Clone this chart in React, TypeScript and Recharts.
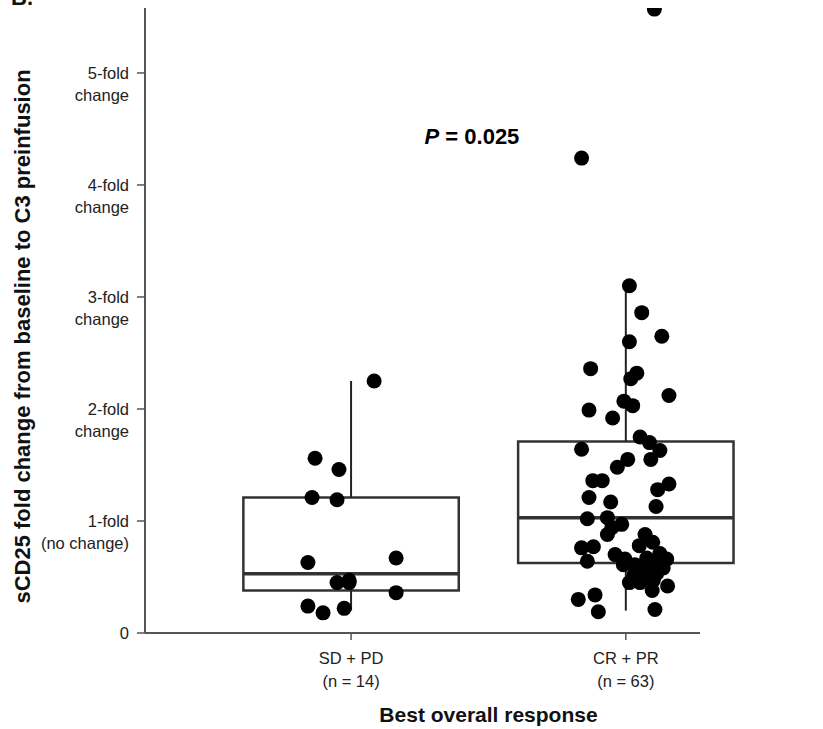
import React from 'react';
import {
  ComposedChart,
  ReferenceArea,
  ReferenceDot,
  ReferenceLine,
  Scatter,
  XAxis,
  YAxis,
} from 'recharts';

// categories on the x axis (positions 1 and 2)
const groupNames = ['SD + PD', 'CR + PR'];
const groupCounts = ['(n = 14)', '(n = 63)'];

// y tick labels
const yTicks = [0, 1, 2, 3, 4, 5];
const yTickLines = [
  ['0'],
  ['1-fold', '(no change)'],
  ['2-fold', 'change'],
  ['3-fold', 'change'],
  ['4-fold', 'change'],
  ['5-fold', 'change'],
];

// box statistics: [whisker low, q1, median, q3, whisker high]
const sdPdBox = [0.2, 0.38, 0.53, 1.21, 2.25];
const crPrBox = [0.2, 0.625, 1.03, 1.71, 3.1];
const boxHalfWidth = 0.392;

// individual patients: fold change and horizontal jitter
const sdPdValues = [2.25, 1.56, 1.46, 1.21, 1.19, 0.63, 0.67, 0.45, 0.45, 0.36, 0.24, 0.18, 0.22, 0.47];
const sdPdJitter = [0.084, -0.131, -0.044, -0.142, -0.051, -0.157, 0.164, -0.051, -0.007, 0.164, -0.157, -0.102, -0.025, -0.007];

const crPrValues = [
  5.57, 4.24, 3.1, 2.86, 2.65, 2.6, 2.36, 2.32, 2.27, 2.12, 2.07, 2.03, 1.99, 1.92, 1.75, 1.7,
  1.63, 1.64, 1.55, 1.55, 1.48, 1.36, 1.36, 1.33, 1.28, 1.21, 1.17, 1.13, 1.02, 1.03, 0.97, 0.94,
  0.88, 0.88, 0.81, 0.78, 0.76, 0.77, 0.71, 0.66, 0.64, 0.7, 0.66, 0.67, 0.61, 0.61, 0.59, 0.58,
  0.55, 0.53, 0.49, 0.45, 0.45, 0.47, 0.42, 0.38, 0.3, 0.34, 0.19, 0.21, 0.55, 0.52, 0.62,
];
const crPrJitter = [
  0.104, -0.161, 0.013, 0.058, 0.131, 0.013, -0.128, 0.04, 0.018, 0.157, -0.007, 0.025, -0.134, -0.048, 0.052, 0.086,
  0.124, -0.161, 0.007, 0.091, -0.031, -0.12, -0.086, 0.157, 0.116, -0.134, -0.055, 0.11, -0.14, -0.067, -0.015, -0.051,
  -0.067, 0.07, 0.098, 0.049, -0.161, -0.118, 0.124, 0.149, -0.14, -0.039, -0.003, 0.076, -0.009, 0.033, 0.088, 0.136,
  0.058, 0.112, 0.07, 0.013, 0.052, 0.1, 0.152, 0.096, -0.173, -0.112, -0.1, 0.106, 0.08, 0.03, 0.12,
];

const pValueText = '= 0.025';

const points = [
  ...sdPdValues.map((v, i) => ({ x: 1 + sdPdJitter[i], y: v })),
  ...crPrValues.map((v, i) => ({ x: 2 + crPrJitter[i], y: v })),
];

const boxes = [sdPdBox, crPrBox];
const FONT = '"Liberation Sans", Arial, sans-serif';
const BOX_STROKE = '#333';

const YTick = (props: any) => {
  const { x, y, payload } = props;
  const idx = yTicks.indexOf(payload.value);
  const lines = yTickLines[idx] || [String(payload.value)];
  return (
    <text x={x} y={y} textAnchor="end" fontSize={16.5} fill="#222" fontFamily={FONT}>
      {lines.map((l, i) => (
        <tspan key={i} x={x} dy={i === 0 ? 6 : 22}>
          {l}
        </tspan>
      ))}
    </text>
  );
};

const XTick = (props: any) => {
  const { x, y, payload } = props;
  const idx = Math.round(payload.value) - 1;
  return (
    <text x={x} y={y} textAnchor="middle" fontSize={16.5} fill="#222" fontFamily={FONT}>
      <tspan x={x} dy={22}>{groupNames[idx]}</tspan>
      <tspan x={x} dy={23}>{groupCounts[idx]}</tspan>
    </text>
  );
};

const YLabel = (props: any) => {
  const { viewBox } = props;
  const cx = viewBox.x + 22;
  const cy = viewBox.y + viewBox.height / 2 + 16;
  return (
    <text
      x={cx}
      y={cy}
      transform={`rotate(-90, ${cx}, ${cy})`}
      textAnchor="middle"
      dominantBaseline="central"
      fontSize={22}
      fontWeight="bold"
      fill="#111"
      fontFamily={FONT}
    >
      sCD25 fold change from baseline to C3 preinfusion
    </text>
  );
};

const XLabel = (props: any) => {
  const { viewBox } = props;
  const cx = viewBox.x + viewBox.width / 2 + 66;
  return (
    <text x={cx} y={viewBox.y + 89} textAnchor="middle" fontSize={21} fontWeight="bold" fill="#111" fontFamily={FONT}>
      Best overall response
    </text>
  );
};

const PLabel = (props: any) => {
  const { viewBox } = props;
  const cx = viewBox.x + (viewBox.width || 0) / 2;
  const cy = viewBox.y + (viewBox.height || 0) / 2;
  return (
    <text x={cx} y={cy + 8} textAnchor="middle" fontSize={22} fontWeight="bold" fill="#000" fontFamily={FONT}>
      <tspan fontStyle="italic">P</tspan>
      <tspan> {pValueText}</tspan>
    </text>
  );
};

const Dot = (props: any) => <circle cx={props.cx} cy={props.cy} r={7.5} fill="#000" />;

export default function App() {
  return (
    <div style={{ position: 'relative', width: 823, height: 729, background: '#fff' }}>
      <style>{'body{margin:0}'}</style>
      <svg width={60} height={10} style={{ position: 'absolute', left: 0, top: 0 }}>
        <text x={11} y={5} fontSize={22} fontWeight="bold" fontFamily={FONT} fill="#111">
          B.
        </text>
      </svg>
      <ComposedChart
        width={823}
        height={729}
        data={points}
        margin={{ top: 8, right: 123, bottom: 0, left: 0 }}
        style={{ fontFamily: FONT }}
      >
        <XAxis
          type="number"
          dataKey="x"
          domain={[0.25, 2.27]}
          ticks={[1, 2]}
          allowDataOverflow
          height={96}
          tickSize={7}
          tickMargin={2}
          tick={<XTick />}
          axisLine={{ stroke: '#555', strokeWidth: 2 }}
          tickLine={{ stroke: '#555', strokeWidth: 1.5 }}
          label={<XLabel />}
        />
        <YAxis
          type="number"
          dataKey="y"
          domain={[0, 5.58]}
          ticks={yTicks}
          allowDataOverflow
          width={145}
          tickSize={8}
          tickMargin={8}
          tick={<YTick />}
          axisLine={{ stroke: '#555', strokeWidth: 2 }}
          tickLine={{ stroke: '#555', strokeWidth: 1.5 }}
          label={<YLabel />}
        />
        {boxes.map((b, i) => (
          <ReferenceArea
            key={`b${i}`}
            x1={i + 1 - boxHalfWidth}
            x2={i + 1 + boxHalfWidth}
            y1={b[1]}
            y2={b[3]}
            ifOverflow="visible"
            fill="#fff"
            fillOpacity={1}
            stroke={BOX_STROKE}
            strokeWidth={2.5}
          />
        ))}
        {boxes.map((b, i) => (
          <ReferenceLine
            key={`l${i}`}
            segment={[
              { x: i + 1, y: b[0] },
              { x: i + 1, y: b[1] },
            ]}
            stroke="#222"
            strokeWidth={2}
          />
        ))}
        {boxes.map((b, i) => (
          <ReferenceLine
            key={`u${i}`}
            segment={[
              { x: i + 1, y: b[3] },
              { x: i + 1, y: b[4] },
            ]}
            stroke="#222"
            strokeWidth={2}
          />
        ))}
        {boxes.map((b, i) => (
          <ReferenceLine
            key={`m${i}`}
            segment={[
              { x: i + 1 - boxHalfWidth, y: b[2] },
              { x: i + 1 + boxHalfWidth, y: b[2] },
            ]}
            ifOverflow="visible"
            stroke={BOX_STROKE}
            strokeWidth={3.5}
          />
        ))}
        <ReferenceDot x={1.44} y={4.44} r={0} fill="none" stroke="none" label={<PLabel />} />
        <Scatter data={points} dataKey="y" shape={<Dot />} isAnimationActive={false} />
      </ComposedChart>
    </div>
  );
}
